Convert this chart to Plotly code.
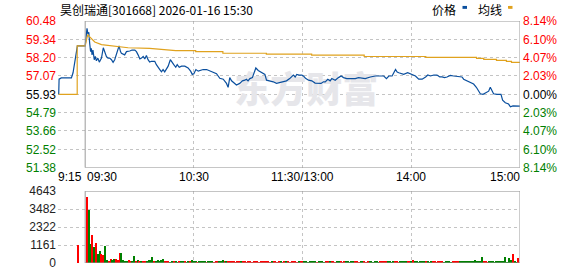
import plotly.graph_objects as go

# ---------------- data ----------------
TITLE = "昊创瑞通[301668] 2026-01-16 15:30"
prev_close = 55.93
price_ticks = [60.48, 59.34, 58.20, 57.07, 55.93, 54.79, 53.66, 52.52, 51.38]
pct_labels = ["8.14%", "6.10%", "4.07%", "2.03%", "0.00%", "2.03%", "4.07%", "6.10%", "8.14%"]
time_ticks = [-15, 0, 60, 120, 180, 240]
time_labels = ["9:15", "09:30", "10:30", "11:30/13:00", "14:00", "15:00"]
vol_ticks = [0, 1161, 2322, 3482, 4643]

# minutes from 09:30 (pre-market is negative)
price_min = [-14.6, -14.4, -13.2, -7.6, -6.7, -5.8, -4.9, -4.3,
             0, 1, 1.5, 2, 2.5, 3, 3.4, 3.8, 4.3, 5, 5.6, 6.2, 7, 7.8, 8.5, 9, 10, 10.8, 11.7,
             12.6, 13.5, 14.5, 15.4, 16.3, 17.2, 18.2, 18.7, 19.5, 20, 21.8, 22.8, 24.6, 25.9,
             27.4, 28.3, 29.2, 30.2, 31.1, 32, 32.9, 33.8, 34.7, 35.6, 36.6, 38.4, 39.3, 40.3,
             41.2, 42.1, 43, 43.9, 44.8, 45.8, 47, 48, 48.9, 50, 50.8, 51.9, 53.2, 55, 56.8,
             58.2, 59.1, 60, 61.1, 62.4, 63.6, 65.1, 67, 68.4, 69.7, 71.5, 72.5, 73.4, 74.3,
             76.2, 78, 78.9, 79.8, 80.8, 82, 83.5, 85.3, 86.8, 88.1, 89, 89.9, 90.9, 92.3, 93.1,
             94.2, 95.5, 97.3, 99.2, 100.1, 101.9, 103.8, 105.6, 107.4, 109.3, 111.1, 112.9,
             114, 114.9, 115.9, 116.8, 118.1, 119.6, 120.5, 121.8, 123.3, 125.1, 126.9, 128.8,
             130.2, 131.5, 132.5, 133.9, 135.2, 136.1, 138, 139.8, 141.3, 142.6, 144.4, 147.2,
             149.1, 150.9, 154.6, 157.4, 160.1, 164.8, 166.3, 167.6, 169.4, 171.3, 172.2,
             173.1, 174.9, 175.8, 178, 179.5, 181, 182.3, 184.1, 186, 187.9, 189.1, 190.6,
             192.4, 194.2, 195.7, 197, 198.4, 199.7, 201.5, 203.4, 205.2, 206.7, 208, 208.9,
             210.7, 212.6, 214.4, 215.9, 217.2, 218.1, 219.6, 221.4, 222.7, 223.6, 224.5,
             225.4, 227.3, 229.5, 230.4, 231.9, 233.7, 234.7, 236.1, 237.4, 240]
price_val = [55.93, 56.87, 56.95, 56.95, 57.27, 57.98, 58.68, 58.94,
             58.94, 60.02, 59.68, 59.78, 59.08, 58.58, 58.78, 58.38, 58.68, 58.08, 58.28, 58.01,
             58.18, 57.93, 58.08, 58.18, 58.82, 58.58, 58.28, 58.18, 58.18, 58.08, 57.92, 58.08,
             58.38, 58.68, 58.94, 58.58, 58.48, 58.38, 58.58, 58.62, 58.68, 58.68, 58.58, 58.38,
             58.13, 58.18, 58.28, 58.13, 58.34, 58.08, 57.93, 57.98, 57.98, 57.77, 57.57, 57.47,
             57.33, 57.47, 57.33, 57.47, 57.68, 58.08, 57.95, 57.77, 57.61, 57.77, 57.61, 57.68,
             57.68, 57.57, 57.37, 57.17, 57.21, 57.47, 57.37, 57.41, 57.47, 57.47, 57.41, 57.37,
             57.27, 57.21, 57.07, 56.93, 56.87, 56.61, 56.37, 56.97, 56.77, 56.67, 56.51, 56.61,
             56.77, 56.81, 56.87, 56.77, 56.91, 56.97, 57.27, 57.57, 57.41, 57.27, 57.17, 56.81,
             56.77, 56.71, 56.61, 56.67, 56.71, 56.77, 56.91, 57.01, 57.13, 57.01, 57.17, 57.13,
             57.13, 57.07, 56.91, 56.81, 56.77, 56.63, 56.61, 56.61, 56.71, 56.71, 56.87, 56.77,
             56.91, 56.81, 56.97, 57.07, 56.97, 56.91, 56.91, 56.91, 56.97, 56.91, 57.01, 57.07,
             57.07, 56.91, 57.07, 57.07, 57.47, 57.31, 57.27, 57.21, 57.17, 57.27, 57.21, 57.17,
             57.07, 56.87, 56.87, 57.01, 57.13, 57.07, 57.13, 57.13, 57.01, 57.01, 56.97, 57.01,
             57.11, 57.07, 57.03, 57.01, 57.01, 56.87, 56.77, 56.67, 56.57, 56.37, 56.13, 55.97,
             55.93, 56.07, 56.13, 56.37, 56.17, 55.97, 55.93, 55.93, 55.57, 55.41, 55.33, 55.16,
             55.22, 55.20, 55.20]

avg_min = [-14.6, -4.4, -4.4, 0, 1, 1.5, 2.5, 3.4, 4.3, 5.3, 9, 18.2, 23.7, 35.6, 42.1, 47,
           50, 61, 61, 76, 76, 100, 100, 125, 125, 154, 154, 188, 188, 216, 216, 220, 220,
           227, 227, 232.5, 232.5, 235.3, 235.3, 240]
avg_val = [55.93, 55.93, 58.94, 58.94, 59.45, 59.62, 59.50, 59.40, 59.28, 59.18, 59.02, 58.90,
           58.82, 58.78, 58.72, 58.68, 58.64, 58.64, 58.58, 58.58, 58.48, 58.48, 58.42, 58.42,
           58.36, 58.36, 58.28, 58.28, 58.22, 58.22, 58.16, 58.16, 58.10, 58.10, 58.04, 58.04,
           57.98, 57.98, 57.92, 57.92]

pre_vol_min = [-4]
pre_vol = [1150]
pre_vol_dir = "r"

vol = [4264, 3386, 1191, 1818, 1003, 1296, 585, 752, 564, 522, 1066, 188, 125, 251, 209, 251, 230, 167, 627, 627,
       167, 84, 125, 167, 84, 63, 439, 125, 167, 84, 125, 63, 63, 84, 209, 167, 376, 63, 84, 167,
       146, 167, 251, 84, 63, 63, 42, 63, 84, 63, 42, 63, 63, 84, 63, 42, 63, 84, 200, 63,
       63, 42, 63, 84, 63, 63, 42, 84, 63, 63, 42, 63, 63, 84, 63, 170, 63, 146, 84, 63,
       63, 63, 42, 63, 84, 63, 63, 63, 42, 63, 63, 42, 63, 63, 63, 42, 63, 63, 63, 63,
       63, 42, 63, 63, 63, 42, 63, 63, 42, 63, 63, 63, 42, 63, 63, 63, 42, 63, 63, 63,
       63, 63, 42, 63, 63, 84, 63, 42, 63, 63, 63, 42, 63, 63, 63, 84, 63, 42, 63, 63,
       63, 42, 63, 63, 63, 42, 63, 63, 84, 63, 42, 63, 63, 63, 42, 63, 63, 63, 42, 63,
       63, 42, 63, 63, 63, 84, 63, 63, 42, 63, 63, 63, 42, 63, 63, 63, 84, 63, 63, 63,
       188, 63, 63, 42, 63, 63, 84, 63, 63, 42, 63, 63, 63, 42, 63, 63, 63, 42, 63, 63,
       63, 42, 63, 84, 63, 63, 63, 84, 63, 63, 84, 63, 63, 84, 188, 63, 84, 63, 376, 125,
       63, 42, 63, 63, 63, 42, 63, 63, 84, 63, 63, 376, 42, 313, 209, 564, 63, 42, 313, 0]
vol_dir = ("rggrgrggrrggrrggrrrg" "gggrrggrgrgrrggggrgg" "gggrrrggrggrggrggrgg"
           "grggggrgggrrrgggrgrr" "rrrrrgrrrrrrrrrrrrrr" "rrgrrrrgrrgrrrrrrgrr"
           "gggggggrggggrrgrrrgg" "rrrgggggrrrggrrrgggg" "ggrrrrggggrrrggggrrg"
           "rggggggrgggrrrrrrggg" "ggrrrrgggggggggggggr" "rrgggggggggggggrggrr")
vol_min = list(range(1, len(vol) + 1))

# ---------------- style ----------------
W, H = 578, 276
ML, MR, MT, MB = 58, 58, 21, 6
RED, GREEN, DARK = "#ff0000", "#008000", "#000000"
BLUE, GOLD = "#0a4f9e", "#e0a21e"
GRID = "#c4c4c4"
FRAME = "#9a9a9a"
FONT = "Liberation Sans, Arial, sans-serif"
CJK = "Noto Sans CJK SC, Liberation Sans, sans-serif"

plot_h = H - MT - MB
main_dom = [(H - MB - 172) / plot_h, 1.0]
vol_dom = [0.0, (H - MB - 196) / plot_h]


def tick_color(v):
    if abs(v - prev_close) < 1e-6:
        return DARK
    return RED if v > prev_close else GREEN


left_text = [f'<span style="color:{tick_color(v)}">{v:.2f}</span>' for v in price_ticks]
right_text = [f'<span style="color:{tick_color(v)}">{t}</span>' for v, t in zip(price_ticks, pct_labels)]

fig = go.Figure()

# watermark (drawn first so lines sit above)
fig.add_trace(go.Scatter(x=[122], y=[prev_close], mode="text", text=["东方财富"],
                         textfont=dict(family=CJK, size=36, color="#e6e6ea", weight=900),
                         hoverinfo="skip", showlegend=False, xaxis="x", yaxis="y"))

fig.add_trace(go.Scatter(x=avg_min, y=avg_val, mode="lines", line=dict(color=GOLD, width=1.2),
                         showlegend=False, xaxis="x", yaxis="y2"))
fig.add_trace(go.Scatter(x=price_min, y=price_val, mode="lines", line=dict(color=BLUE, width=1.2),
                         showlegend=False, xaxis="x", yaxis="y"))

all_vmin = pre_vol_min + vol_min
all_vol = pre_vol + vol
all_dir = pre_vol_dir + vol_dir
fig.add_trace(go.Bar(x=all_vmin, y=all_vol, width=0.6,
                     marker=dict(color=[RED if d == "r" else GREEN for d in all_dir], line=dict(width=0)),
                     showlegend=False, xaxis="x2", yaxis="y3"))

xcommon = dict(range=[-15, 240], tickmode="array", tickvals=[-15, 60, 120, 180],
               showticklabels=False, showgrid=True, gridcolor=GRID, griddash="3px,3px",
               gridwidth=1, zeroline=False, showline=False, ticks="", fixedrange=True)

fig.update_layout(
    width=W, height=H, margin=dict(l=ML, r=MR, t=MT, b=MB),
    paper_bgcolor="white", plot_bgcolor="white",
    font=dict(family=FONT, size=12, color=DARK),
    xaxis=dict(domain=[0, 1], anchor="y", **xcommon),
    xaxis2=dict(domain=[0, 1], anchor="y3", **xcommon),
    yaxis=dict(domain=main_dom, anchor="x", range=[price_ticks[-1], price_ticks[0]],
               tickmode="array", tickvals=price_ticks, ticktext=left_text,
               showgrid=True, gridcolor=GRID, griddash="3px,3px", zeroline=False,
               ticks="", ticklabelstandoff=1, tickfont=dict(family=FONT, size=12)),
    yaxis2=dict(domain=main_dom, anchor="x", overlaying="y", side="right",
                range=[price_ticks[-1], price_ticks[0]], tickmode="array",
                tickvals=price_ticks, ticktext=right_text, showgrid=False, zeroline=False,
                ticks="", ticklabelstandoff=2, tickfont=dict(family=FONT, size=12)),
    yaxis3=dict(domain=vol_dom, anchor="x2", range=[0, vol_ticks[-1]], tickmode="array",
                tickvals=vol_ticks, ticktext=[str(v) for v in vol_ticks],
                showgrid=True, gridcolor=GRID, griddash="3px,3px", zeroline=False,
                ticks="", ticklabelstandoff=1, tickfont=dict(family=FONT, size=12, color="#222")),
    bargap=0,
)

# frames around the trading session
fig.add_shape(type="rect", xref="x", yref="y", x0=0, x1=240, y0=price_ticks[-1], y1=price_ticks[0],
              line=dict(color=FRAME, width=1))
fig.add_shape(type="rect", xref="x2", yref="y3", x0=0, x1=240, y0=0, y1=vol_ticks[-1],
              line=dict(color=FRAME, width=1))

# time labels
anchors = ["left", "left", "center", "center", "center", "right"]
shifts = [-2, 0, 0, 0, 0, 2]
for t, lab, a, s in zip(time_ticks, time_labels, anchors, shifts):
    fig.add_annotation(x=t, xref="x", y=(H - MB - 182) / plot_h, yref="paper", text=lab,
                       showarrow=False, xanchor=a, yanchor="middle", xshift=s,
                       font=dict(family=FONT, size=12, color=DARK))


def px_x(p):
    return (p - ML) / (W - ML - MR)


def px_y(p):
    return (H - MB - p) / plot_h


# title
fig.add_annotation(x=px_x(57.5), y=px_y(9.5), xref="paper", yref="paper", text=TITLE,
                   showarrow=False, xanchor="left", yanchor="middle",
                   font=dict(family=CJK, size=12, color=DARK))

# legend
fig.add_annotation(x=px_x(430), y=px_y(9.5), xref="paper", yref="paper", text="价格",
                   showarrow=False, xanchor="left", yanchor="middle",
                   font=dict(family=CJK, size=12, color=DARK))
fig.add_annotation(x=px_x(475.5), y=px_y(9.5), xref="paper", yref="paper", text="均线",
                   showarrow=False, xanchor="left", yanchor="middle",
                   font=dict(family=CJK, size=12, color=DARK))
fig.add_shape(type="rect", xref="paper", yref="paper", x0=px_x(462.5), x1=px_x(467),
              y0=px_y(8.5), y1=px_y(5.5), line=dict(width=0), fillcolor=BLUE)
fig.add_shape(type="rect", xref="paper", yref="paper", x0=px_x(508), x1=px_x(512.5),
              y0=px_y(8.5), y1=px_y(5.5), line=dict(width=0), fillcolor=GOLD)

fig.write_html("out.html")
